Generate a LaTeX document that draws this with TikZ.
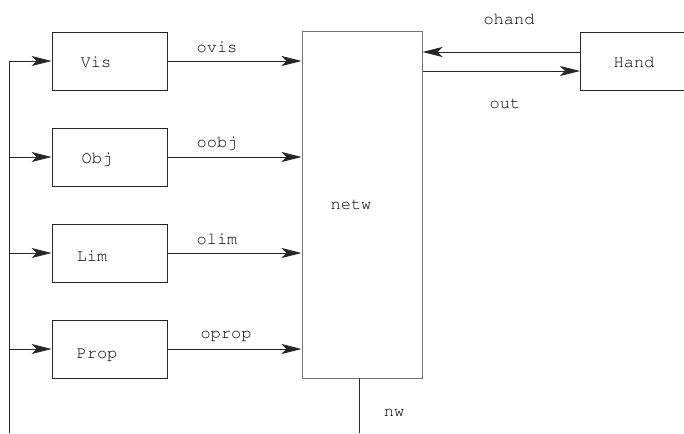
\documentclass[tikz,border=0pt]{standalone}
\usepackage[T1]{fontenc}
\usepackage{courier}
\usetikzlibrary{arrows.meta}
\begin{document}
\begin{tikzpicture}[x=1pt,y=-1pt,
  box/.style={draw=black!85,line width=0.9pt,rectangle,inner sep=0pt},
  txt/.style={font=\ttfamily\fontsize{17}{19}\selectfont,inner sep=0pt},
  conn/.style={line width=0.9pt,draw=black!85},
  arr/.style={conn,-{Stealth[length=20pt,width=10pt,inset=5pt]}}]
\useasboundingbox (0,0) rectangle (684,433);
% boxes
\node[box,minimum width=115pt,minimum height=58pt] (vis) at (109.5,61) {};
\node[box,minimum width=115pt,minimum height=58pt] (obj) at (109.5,157) {};
\node[box,minimum width=115pt,minimum height=58pt] (lim) at (109.5,253) {};
\node[box,minimum width=115pt,minimum height=58pt] (prop) at (109.5,349) {};
\node[box,draw=black!55,line width=1pt,minimum width=120pt,minimum height=346pt] (netw) at (362,205) {};
\node[box,minimum width=110pt,minimum height=58pt] (hand) at (635,61) {};
% texts
\node[txt] (tvis) at (96,62) {Vis};
\node[txt] (tobj) at (97,159) {Obj};
\node[txt] (tlim) at (92,256) {Lim};
\node[txt] (tprop) at (97,355) {Prop};
\node[txt] (tnetw) at (351,205) {netw};
\node[txt] (thand) at (634,62) {Hand};
\node[txt] (lovis) at (217,47) {ovis};
\node[txt] (loobj) at (217,143) {oobj};
\node[txt] (lolim) at (217,239) {olim};
\node[txt] (loprop) at (226,336) {oprop};
\node[txt] (lohand) at (509,19) {ohand};
\node[txt] (lout) at (505,104) {out};
\node[txt] (lnw) at (394,413) {nw};
% left feedback line
\coordinate (lb) at (9,433);
\coordinate (l1) at (9,61);
\coordinate (l2) at (9,157);
\coordinate (l3) at (9,253);
\coordinate (l4) at (9,349);
\draw[conn] (lb) -- (l1);
\draw[arr] (l1) -- (vis.west);
\draw[arr] (l2) -- (obj.west);
\draw[arr] (l3) -- (lim.west);
\draw[arr] (l4) -- (prop.west);
% to netw
\draw[arr] (vis.east) -- (vis.east -| netw.west);
\draw[arr] (obj.east) -- (obj.east -| netw.west);
\draw[arr] (lim.east) -- (lim.east -| netw.west);
\draw[arr] (prop.east) -- (prop.east -| netw.west);
% hand
\coordinate (hh) at (580,52);
\coordinate (ho) at (580,71);
\draw[arr] (hh) -- (hh -| netw.east);
\draw[arr] (ho -| netw.east) -- (ho);
% nw
\coordinate (nwt) at (359,378);
\coordinate (nwb) at (359,433);
\draw[conn] (nwt) -- (nwb);
\end{tikzpicture}
\end{document}
